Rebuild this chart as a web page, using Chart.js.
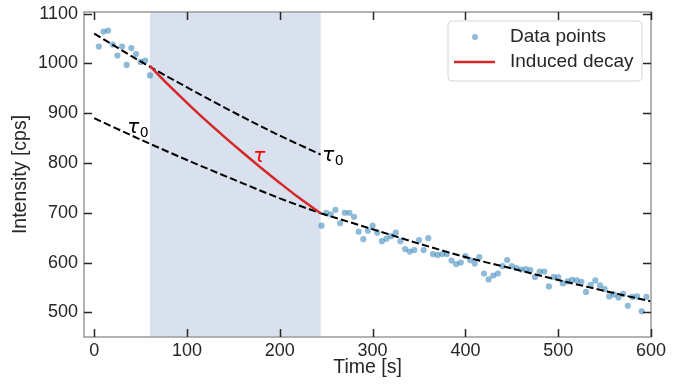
<!DOCTYPE html>
<html>
<head>
<meta charset="utf-8">
<script src="https://cdn.jsdelivr.net/npm/chart.js@4.4.1/dist/chart.umd.min.js"></script>
<style>
  html, body { margin: 0; padding: 0; background: #fff; }
  #wrap { width: 683px; height: 385px; }
</style>
</head>
<body>
<div id="wrap"><canvas id="c" width="683" height="385"></canvas></div>
<script>
// ---- data ----
const pointTimes = [5, 10, 15, 20, 25, 30, 35, 40, 45, 50, 55, 60,
  245, 250, 255, 260, 265, 270, 275, 280, 285, 290, 295, 300, 305, 310, 315, 320, 325, 330,
  335, 340, 345, 350, 355, 360, 365, 370, 375, 380, 385, 390, 395, 400, 405, 410, 415, 420,
  425, 430, 435, 440, 445, 450, 455, 460, 465, 470, 475, 480, 485, 490, 495, 500, 505, 510,
  515, 520, 525, 530, 535, 540, 545, 550, 555, 560, 565, 570, 575, 580, 585, 590, 595];
const pointValues = [1034, 1064, 1066, 1038, 1016, 1034, 997, 1031, 1019, 1003, 1006, 976,
  674, 700, 697, 706, 679, 700, 700, 692, 662, 647, 664, 674, 660, 643, 648, 653, 660, 643,
  627, 622, 625, 645, 625, 649, 617, 615, 617, 617, 604, 597, 600, 613, 605, 598, 611, 578,
  566, 574, 578, 593, 605, 593, 589, 586, 587, 585, 571, 582, 582, 552, 571, 571, 558, 562,
  565, 564, 561, 541, 555, 564, 554, 547, 532, 536, 530, 537, 513, 531, 532, 502, 531];

const upperFitTimes = [0, 50, 100, 150, 200, 244];
const upperFitValues = [1060, 1004, 952, 902, 855, 817];
const lowerFitTimes = [0, 50, 100, 150, 200, 244];
const lowerFitValues = [890, 847, 806, 767, 729, 699];
const postFitTimes = [244, 300, 350, 400, 450, 500, 550, 600];
const postFitValues = [699, 667, 638, 611, 588, 565, 543, 522];
const inducedTimes = [60, 80, 100, 120, 140, 160, 180, 200, 220, 244];
const inducedValues = [995, 957, 921, 886, 853, 821, 790, 760, 731, 699];

const shadeRange = [60, 244];
const xTickValues = [0, 100, 200, 300, 400, 500, 600];
const yTickValues = [500, 600, 700, 800, 900, 1000, 1100];
const seriesLabels = ['Data points', 'Induced decay'];
const labelTexts = [
  { main: 'τ', sub: '0', t: 35.6, v: 860, color: '#000000' },
  { main: 'τ', sub: '0', t: 245.7, v: 805, color: '#000000' },
  { main: 'τ', sub: '', t: 171.3, v: 803, color: '#ff0000' }
];

// ---- helpers ----
const zip = (xs, ys) => xs.map((x, i) => ({ x: x, y: ys[i] }));
const FONT = '"Liberation Sans", Arial, sans-serif';
const TEXT = '#262626';
const POINT_COLOR = 'rgba(31,119,180,0.5)';
const RED = '#d62728';

const overlay = {
  id: 'overlay',
  beforeDatasetsDraw(chart) {
    const { ctx, chartArea: a, scales: { x } } = chart;
    const x0 = x.getPixelForValue(shadeRange[0]);
    const x1 = x.getPixelForValue(shadeRange[1]);
    ctx.save();
    ctx.fillStyle = '#d9e0ee';
    ctx.fillRect(x0, a.top, x1 - x0, a.bottom - a.top);
    ctx.restore();
  },
  afterDatasetsDraw(chart) {
    const { ctx, chartArea: a, scales: { x, y } } = chart;
    ctx.save();
    // text annotations
    labelTexts.forEach(l => {
      const px = x.getPixelForValue(l.t);
      const py = y.getPixelForValue(l.v);
      ctx.fillStyle = l.color;
      ctx.textBaseline = 'alphabetic';
      ctx.textAlign = 'left';
      ctx.font = 'italic 20px "DejaVu Sans", sans-serif';
      ctx.fillText(l.main, px, py);
      const w = ctx.measureText(l.main).width;
      if (l.sub) {
        ctx.font = '14px "DejaVu Sans", sans-serif';
        ctx.fillText(l.sub, px + w + 0.5, py + 4);
      }
    });
    // spines
    ctx.strokeStyle = '#a0a0a0';
    ctx.lineWidth = 1.6;
    ctx.strokeRect(a.left, a.top, a.right - a.left, a.bottom - a.top);
    // inward ticks on all sides
    ctx.strokeStyle = TEXT;
    ctx.lineWidth = 1.5;
    const L = 8;
    ctx.beginPath();
    xTickValues.forEach(v => {
      const px = Math.round(x.getPixelForValue(v)) + 0.5;
      ctx.moveTo(px, a.bottom); ctx.lineTo(px, a.bottom - L);
      ctx.moveTo(px, a.top); ctx.lineTo(px, a.top + L);
    });
    yTickValues.forEach(v => {
      const py = Math.round(y.getPixelForValue(v)) + 0.5;
      ctx.moveTo(a.left, py); ctx.lineTo(a.left + L, py);
      ctx.moveTo(a.right, py); ctx.lineTo(a.right - L, py);
    });
    ctx.stroke();
    // legend
    const bx = a.right - 9 - 194, by = a.top + 9, bw = 194, bh = 60, r = 4;
    ctx.beginPath();
    ctx.moveTo(bx + r, by);
    ctx.arcTo(bx + bw, by, bx + bw, by + bh, r);
    ctx.arcTo(bx + bw, by + bh, bx, by + bh, r);
    ctx.arcTo(bx, by + bh, bx, by, r);
    ctx.arcTo(bx, by, bx + bw, by, r);
    ctx.closePath();
    ctx.fillStyle = 'rgba(255,255,255,0.85)';
    ctx.fill();
    ctx.strokeStyle = '#d6d6d6';
    ctx.lineWidth = 1;
    ctx.stroke();
    const row1 = by + 16, row2 = by + 41;
    ctx.fillStyle = POINT_COLOR;
    ctx.beginPath();
    ctx.arc(bx + 27, row1, 3, 0, Math.PI * 2);
    ctx.fill();
    ctx.strokeStyle = RED;
    ctx.lineWidth = 2.5;
    ctx.beginPath();
    ctx.moveTo(bx + 6, row2); ctx.lineTo(bx + 47, row2);
    ctx.stroke();
    ctx.fillStyle = TEXT;
    ctx.font = '19px ' + FONT;
    ctx.textBaseline = 'middle';
    ctx.textAlign = 'left';
    ctx.fillText(seriesLabels[0], bx + 62, row1);
    ctx.fillText(seriesLabels[1], bx + 62, row2);
    ctx.restore();
  }
};

const dashedStyle = {
  showLine: true, pointRadius: 0, borderColor: '#000000', borderWidth: 2,
  borderDash: [7.4, 3.2], cubicInterpolationMode: 'monotone', fill: false, order: 1
};

new Chart(document.getElementById('c'), {
  type: 'scatter',
  data: {
    datasets: [
      Object.assign({ label: 'fit0', data: zip(upperFitTimes, upperFitValues) }, dashedStyle),
      Object.assign({ label: 'fit1', data: zip(lowerFitTimes, lowerFitValues) }, dashedStyle),
      Object.assign({ label: 'fit2', data: zip(postFitTimes, postFitValues) }, dashedStyle),
      {
        label: seriesLabels[1], data: zip(inducedTimes, inducedValues), showLine: true,
        pointRadius: 0, borderColor: RED, borderWidth: 2.5, cubicInterpolationMode: 'monotone', order: 0
      },
      {
        label: seriesLabels[0], data: zip(pointTimes, pointValues), pointRadius: 3.1,
        pointHoverRadius: 3.1, backgroundColor: POINT_COLOR, borderWidth: 0, order: 10
      }
    ]
  },
  options: {
    responsive: false,
    animation: false,
    devicePixelRatio: 1,
    layout: { padding: { top: 12, right: 32, bottom: 0, left: 0 } },
    plugins: { legend: { display: false }, tooltip: { enabled: false } },
    scales: {
      x: {
        type: 'linear', min: -11, max: 600,
        afterBuildTicks: s => { s.ticks = xTickValues.map(v => ({ value: v })); },
        afterFit: s => { s.height = 48; s.paddingLeft = 0; s.paddingRight = 0; },
        grid: { display: false, drawTicks: false },
        border: { display: false },
        ticks: { color: TEXT, font: { size: 18, family: FONT }, padding: 3, maxRotation: 0, callback: v => String(v) },
        title: { display: true, text: 'Time [s]', color: TEXT, font: { size: 19.5, family: FONT, lineHeight: 1.2 }, padding: { top: 0, bottom: 6 } }
      },
      y: {
        type: 'linear', min: 450.4, max: 1103.4,
        afterBuildTicks: s => { s.ticks = yTickValues.map(v => ({ value: v })); },
        afterFit: s => { s.width = 84; s.paddingTop = 0; s.paddingBottom = 0; },
        grid: { display: false, drawTicks: false },
        border: { display: false },
        ticks: { color: TEXT, font: { size: 18, family: FONT }, padding: 6, callback: v => String(v) },
        title: { display: true, text: 'Intensity [cps]', color: TEXT, font: { size: 19.5, family: FONT, lineHeight: 1.2 }, padding: { top: 9, bottom: 0 } }
      }
    }
  },
  plugins: [overlay]
});
</script>
</body>
</html>
